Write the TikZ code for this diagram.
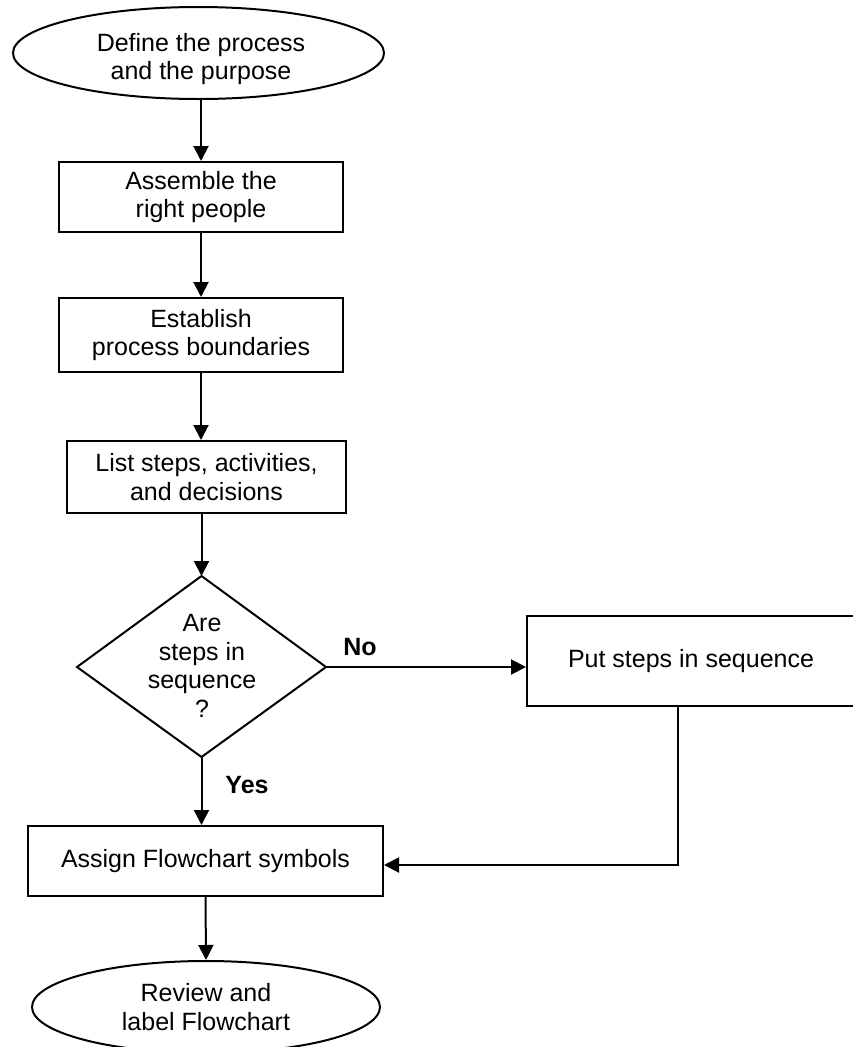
\documentclass[tikz,border=0pt]{standalone}
\usepackage{fontspec}
\setmainfont{Liberation Sans}
\usetikzlibrary{shapes.geometric,arrows.meta}
\tikzset{
  txt/.style={font=\fontsize{25pt}{28.5pt}\selectfont, align=center, inner sep=0pt},
  boldtxt/.style={font=\fontsize{25pt}{28.5pt}\selectfont\bfseries, inner sep=0pt},
  procbox/.style={draw, line width=2pt, rectangle, txt},
  termin/.style={draw, line width=2pt, ellipse, txt},
  arr/.style={line width=2pt, -{Triangle[length=15pt,width=15pt]}},
  conn/.style={line width=2pt}
}
\begin{document}
\begin{tikzpicture}[x=1pt,y=-1pt]
\useasboundingbox (0,0) rectangle (853,1047);
% start terminal
\node[termin, minimum width=371pt, minimum height=92pt] (e1) at (198.5,53) {};
\node[txt] (e1t) at (201,59) {Define the process\\and the purpose};
% boxes
\node[procbox, minimum width=284pt, minimum height=70pt] (b2) at (201,197) {Assemble the\\right people};
\node[procbox, minimum width=284pt, minimum height=74pt] (b3) at (201,335) {Establish\\process boundaries};
\node[procbox, minimum width=279pt, minimum height=72pt] (b4) at (206.5,477) {List steps, activities,\\and decisions};
% decision
\coordinate (dtop) at (201.5,576);
\coordinate (dright) at (326,667);
\coordinate (dbot) at (201.5,757);
\coordinate (dleft) at (77,667);
\draw[conn, line join=miter] (dtop) -- (dright) -- (dbot) -- (dleft) -- cycle;
\node[txt] (dt) at (202,666) {Are\\steps in\\sequence\\?};
% side box
\node[procbox, minimum width=328pt, minimum height=90pt] (b6) at (691,661) {Put steps in sequence};
% assign box
\node[procbox, minimum width=355pt, minimum height=70pt] (b5) at (205.5,861) {Assign Flowchart symbols};
% end terminal
\node[termin, minimum width=348pt, minimum height=92pt] (e2) at (206,1007) {Review and\\label Flowchart};
% connectors
\draw[arr] (e1.south -| b2.north) -- (b2.north);
\draw[arr] (b2.south) -- (b3.north);
\draw[arr] (b3.south) -- (b3.south |- b4.north);
\draw[arr] (b4.south -| dtop) -- (dtop);
\draw[arr] (dbot) -- (dbot |- b5.north);
\draw[arr] (dright) -- (dright -| b6.west);
\coordinate (c1) at (678,865);
\draw[arr] (b6.south -| c1) -- (c1) -- (c1 -| b5.east);
\draw[arr] (b5.south) -- (e2.north);
% labels
\node[boldtxt] (lno) at (360,647) {No};
\node[boldtxt] (lyes) at (247,785) {Yes};
\end{tikzpicture}
\end{document}
